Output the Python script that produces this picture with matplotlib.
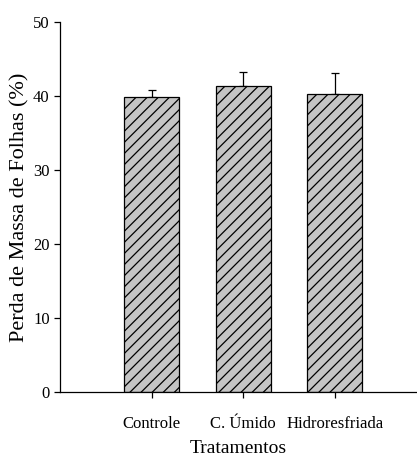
import matplotlib
matplotlib.use("Agg")
import matplotlib.pyplot as plt

# ---------- data ----------
tratamentos = ["Controle", "C. Úmido", "Hidroresfriada"]
perda_massa = [39.9, 41.4, 40.3]
erro_sup    = [0.95, 1.8, 2.8]
y_ticks     = [0, 10, 20, 30, 40, 50]
# --------------------------

plt.rcParams["font.family"] = ["Liberation Serif", "DejaVu Serif"]
plt.rcParams["hatch.linewidth"] = 0.9

fig = plt.figure(figsize=(4.17, 4.68), dpi=100)
ax = fig.add_axes([0.144, 0.162, 0.856, 0.791])

x = range(len(tratamentos))
ax.bar(x, perda_massa, width=0.6, color="#c4c4c4", edgecolor="black",
       linewidth=0.9, hatch="///", zorder=2)
ax.errorbar(x, perda_massa, yerr=[[0] * len(erro_sup), erro_sup],
            fmt="none", ecolor="black", elinewidth=0.9, capsize=3,
            capthick=0.9, zorder=1)

ax.set_xlim(-1.0, 2.9)
ax.set_ylim(0, 50)
ax.set_yticks(y_ticks)
ax.set_xticks(list(x))
ax.set_xticklabels(tratamentos, fontsize=12)
ax.tick_params(axis="y", labelsize=12, length=4, width=0.9, direction="out")
ax.tick_params(axis="x", length=4, width=0.9, direction="out", pad=13)

for s in ["top", "right"]:
    ax.spines[s].set_visible(False)
for s in ["left", "bottom"]:
    ax.spines[s].set_linewidth(0.9)

ax.set_ylabel("Perda de Massa de Folhas (%)", fontsize=16)
ax.yaxis.set_label_coords(-0.085, 0.5)
ax.set_xlabel("Tratamentos", fontsize=14, labelpad=6)

fig.savefig("out.png", dpi=100)
